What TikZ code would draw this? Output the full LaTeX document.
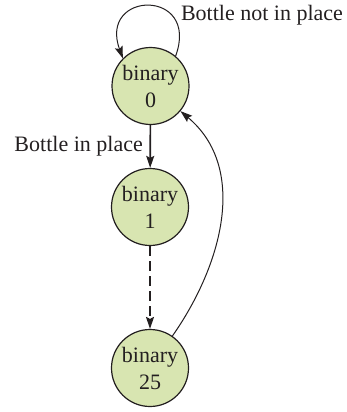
\documentclass[tikz,border=0pt]{standalone}
\usepackage{fontspec}
\setmainfont{Liberation Serif}
\usepackage{tikz}
\usetikzlibrary{arrows,arrows.meta}
\definecolor{zustand}{RGB}{216,229,177}
\definecolor{strich}{RGB}{35,31,32}
\tikzset{
	zstd/.style={circle,draw=strich,line width=0.6pt,fill=zustand,minimum size=38.5pt,inner sep=0pt,align=center,text=strich},
	pfeil/.style={-{Stealth[length=6pt,width=4pt,inset=1pt]},draw=strich},
	beschr/.style={text=strich}
}
\begin{document}
\begin{tikzpicture}[x=0.5pt,y=-0.5pt,font=\fontsize{11}{13.5}\selectfont]
	\useasboundingbox (0,0) rectangle (347,412);
	\node[zstd] (bin0) at (150.5,86) {binary\\0};
	\node[zstd] (bin1) at (150,207) {binary\\1};
	\node[zstd] (bin25) at (150,368) {binary\\25};
	\node[beschr,anchor=west] (nichtda) at (174,15) {Bottle not in place};
	\draw[pfeil,line width=0.5pt] (bin0.50) to[out=70,in=110,looseness=3.5] (bin0.135);
	\draw[pfeil,line width=0.8pt] (bin0) -- node[beschr,left] {Bottle in place} (bin1);
	\draw[pfeil,line width=0.7pt,dash pattern=on 5pt off 2.5pt] (bin1) -- (bin25);
	\draw[pfeil,line width=0.5pt] (bin25) to[out=55,in=-40] (bin0);
\end{tikzpicture}
\end{document}
